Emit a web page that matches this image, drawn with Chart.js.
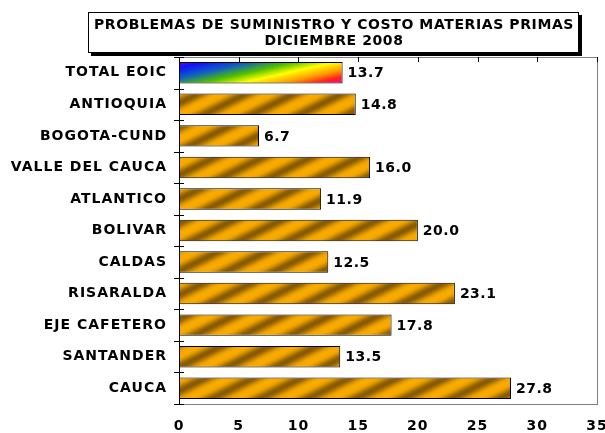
<!DOCTYPE html>
<html>
<head>
<meta charset="utf-8">
<script src="https://cdn.jsdelivr.net/npm/chart.js@4/dist/chart.umd.min.js"></script>
<style>
  html, body { margin: 0; padding: 0; background: #fff; }
  #wrap { width: 605px; height: 433px; }
</style>
</head>
<body>
<div id="wrap"><canvas id="grafico" width="605" height="433"></canvas></div>
<script>
// Datos del gráfico
const categorias = ["TOTAL EOIC", "ANTIOQUIA", "BOGOTA-CUND", "VALLE DEL CAUCA", "ATLANTICO",
  "BOLIVAR", "CALDAS", "RISARALDA", "EJE CAFETERO", "SANTANDER", "CAUCA"];
const valores = [13.7, 14.8, 6.7, 16.0, 11.9, 20.0, 12.5, 23.1, 17.8, 13.5, 27.8];
const ticksX = [0, 5, 10, 15, 20, 25, 30, 35];
const titulo = ["PROBLEMAS DE SUMINISTRO Y COSTO MATERIAS PRIMAS", "DICIEMBRE 2008"];

const fuente = "Verdana, 'DejaVu Sans', sans-serif";
const espaciado = '1px';

// Patrón de rayas doradas en diagonal
function crearRayas() {
    const c = document.createElement('canvas');
    c.width = 48; c.height = 24;
    const g = c.getContext('2d');
    const img = g.createImageData(48, 24);
    for (let y = 0; y < 24; y++) {
        for (let x = 0; x < 48; x++) {
            const t = ((x + 2 * y) % 48) / 48;
            const s = Math.pow(0.5 + 0.5 * Math.cos(2 * Math.PI * t), 1.5);
            const i = (y * 48 + x) * 4;
            img.data[i] = 248 - s * 112;
            img.data[i + 1] = 170 - s * 80;
            img.data[i + 2] = 0 + s * 4;
            img.data[i + 3] = 255;
        }
    }
    g.putImageData(img, 0, 0);
    return g.createPattern(c, 'repeat');
}

const ctx = document.getElementById('grafico').getContext('2d');
const rayas = crearRayas();

function colorBarra(context) {
    const chart = context.chart;
    if (context.dataIndex !== 0) return rayas;
    const { x, y } = chart.scales;
    if (!x || !y || !chart.chartArea) return '#f0a000';
    const x0 = x.getPixelForValue(0);
    const x1 = x.getPixelForValue(valores[0]);
    const yc = y.getPixelForValue(0);
    const top = yc - 11, k = 4.5;
    const t = ((x1 - x0) + k * 22) / (1 + k * k);
    const gr = chart.ctx.createLinearGradient(x0, top, x0 + t, top + k * t);
    gr.addColorStop(0, '#9000c0');
    gr.addColorStop(0.1, '#1010ff');
    gr.addColorStop(0.28, '#1060c0');
    gr.addColorStop(0.45, '#50c000');
    gr.addColorStop(0.6, '#ffff00');
    gr.addColorStop(0.76, '#ff9a00');
    gr.addColorStop(0.88, '#ff2020');
    gr.addColorStop(1, '#ff0090');
    return gr;
}

// Plugin para título, marco y etiquetas
const decoracion = {
    id: 'decoracion',
    beforeLayout(chart) { chart.ctx.letterSpacing = espaciado; },
    beforeDraw(chart) { chart.ctx.letterSpacing = espaciado; },
    afterDraw(chart) {
        const c = chart.ctx;
        const area = chart.chartArea;
        const sx = chart.scales.x;
        const sy = chart.scales.y;
        c.save();

        // Caja del título con sombra
        c.fillStyle = '#000';
        c.fillRect(91, 15, 491, 41);
        c.fillStyle = '#fff';
        c.fillRect(88, 12, 491, 41);
        c.strokeStyle = '#000';
        c.lineWidth = 1;
        c.strokeRect(88.5, 12.5, 490, 40);
        c.fillStyle = '#000';
        c.font = 'bold 14px ' + fuente;
        c.letterSpacing = '0.6px';
        c.textAlign = 'center';
        c.textBaseline = 'middle';
        c.fillText(titulo[0], 334, 25);
        c.fillText(titulo[1], 334, 41);

        // Marco del área
        c.strokeStyle = '#808080';
        c.strokeRect(area.left + 0.5, area.top + 0.5, area.right - area.left, area.bottom - area.top);
        c.strokeStyle = '#000';
        c.beginPath();
        c.moveTo(area.left + 0.5, area.top);
        c.lineTo(area.left + 0.5, area.bottom + 1);
        c.stroke();

        // Marcas superiores del eje x
        c.beginPath();
        ticksX.forEach(v => {
            const px = Math.round(sx.getPixelForValue(v)) + 0.5;
            c.moveTo(px, area.top);
            c.lineTo(px, area.top + 5);
        });
        // Marcas entre categorías
        for (let i = 0; i <= categorias.length; i++) {
            const py = Math.round(sy.getPixelForValue(i - 0.5)) + 0.5;
            c.moveTo(area.left - 5, py);
            c.lineTo(area.left + 5, py);
        }
        c.stroke();

        // Valores de las barras
        c.font = 'bold 14px ' + fuente;
        c.letterSpacing = '0.5px';
        c.textAlign = 'left';
        c.textBaseline = 'middle';
        const meta = chart.getDatasetMeta(0);
        meta.data.forEach((bar, i) => {
            c.fillText(valores[i].toFixed(1), bar.x + 5, bar.y + 1);
        });
        c.restore();
    }
};

new Chart(ctx, {
    type: 'bar',
    data: {
        labels: categorias,
        datasets: [{
            data: valores,
            backgroundColor: colorBarra,
            borderColor: '#000',
            borderWidth: 1,
            borderSkipped: false,
            barPercentage: 0.68,
            categoryPercentage: 1
        }]
    },
    options: {
        indexAxis: 'y',
        responsive: false,
        animation: false,
        layout: { padding: { top: 57, right: 0, bottom: 0, left: 0 } },
        plugins: {
            legend: { display: false },
            tooltip: { enabled: false }
        },
        scales: {
            x: {
                min: 0,
                max: 35,
                afterBuildTicks: (s) => { s.ticks = ticksX.map(v => ({ value: v })); },
                grid: { display: false },
                border: { display: false },
                ticks: {
                    color: '#000',
                    font: { family: fuente, weight: 'bold', size: 14 },
                    padding: 6,
                    maxRotation: 0
                },
                afterFit: (s) => { s.height = 29; s.paddingLeft = 0; s.paddingRight = 8; }
            },
            y: {
                grid: { display: false },
                border: { display: false },
                ticks: {
                    color: '#000',
                    font: { family: fuente, weight: 'bold', size: 14 },
                    padding: 4
                },
                afterFit: (s) => { s.width = 179; }
            }
        }
    },
    plugins: [decoracion]
});
</script>
</body>
</html>
